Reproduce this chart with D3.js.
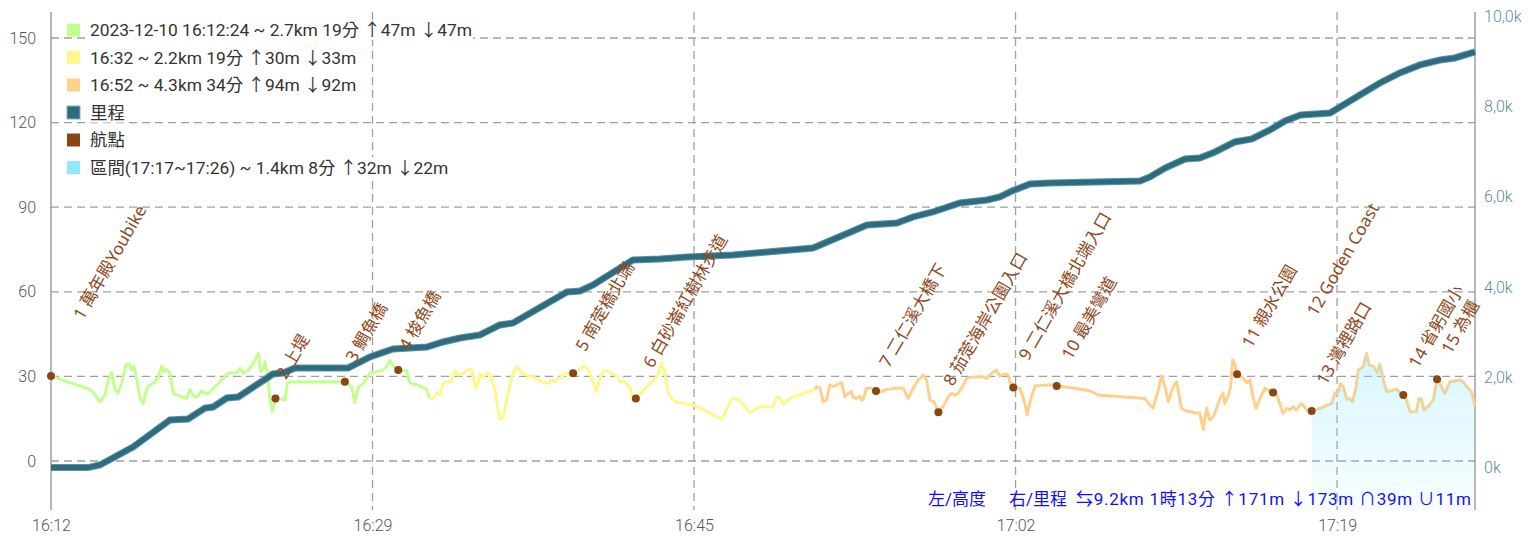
<!DOCTYPE html>
<html><head><meta charset="utf-8">
<script src="https://cdn.jsdelivr.net/npm/d3@7"></script>
<style>
html,body{margin:0;padding:0;background:#fff;}
svg{display:block;}
</style></head><body>
<svg id="c" width="1534" height="536"></svg>
<script>
// ---------------- DATA ----------------
const trackStart = "2023-12-10 16:12:24";
const trackEndSec = 4429;                       // seconds after start (17:26:13)
const segmentStartSec = [0, 1177, 2376];        // 16:12:24, 16:32, 16:52
const segmentNames = [
  "2023-12-10 16:12:24 ~ 2.7km 19分 ↑47m ↓47m",
  "16:32 ~ 2.2km 19分 ↑30m ↓33m",
  "16:52 ~ 4.3km 34分 ↑94m ↓92m"
];
const distanceName = "里程";
const waypointName = "航點";
const rangeName = "區間(17:17~17:26) ~ 1.4km 8分 ↑32m ↓22m";
const rangeSec = [3921, 4429];
const summaryLeft = "左/高度";
const summaryRight = "右/里程";
const summaryText = "⇆9.2km 1時13分 ↑171m ↓173m ∩39m ∪11m";

// elevation (m) vs elapsed seconds
const elevSec = [0,121,137,152,168,178,189,199,209,220,233,244,251,258,267,277,287,298,308,323,334,344,351,360,370,380,401,422,432,443,453,469,479,489,505,526,551,578,588,598,614,629,645,652,660,666,673,681,688,698,728,735,743,914,935,945,956,971,992,1013,1028,1039,1054,1070,1080,1106,1116,1148,1168,1177,
1189,1200,1210,1220,1231,1246,1256,1267,1282,1298,1308,1319,1324,1334,1344,1355,1365,1381,1388,1396,1407,1417,1433,1448,1464,1479,1500,1526,1547,1557,1567,1578,1588,1599,1624,1640,1656,1666,1676,1687,1697,1705,1716,1728,1744,1764,1770,1785,1801,1806,1819,1889,1899,1910,1920,1935,1951,1998,2029,2086,2101,2117,2133,2153,2174,2189,2205,2246,2257,2267,2277,2298,2324,2329,2371,2376,
2381,2392,2402,2412,2423,2433,2444,2459,2469,2480,2490,2495,2506,2516,2521,2526,2537,2552,2566,2583,2599,2630,2651,2666,2682,2697,2713,2723,2734,2746,2760,2775,2791,2801,2811,2822,2832,2848,2863,2895,2910,2926,2941,2951,2967,2977,2982,2993,3014,3029,3036,3045,3060,3107,3128,3169,3231,3257,3402,3418,3428,3444,3454,3465,3475,3485,3496,3501,3516,3527,3558,3573,3584,3594,3604,3615,3625,3636,3646,3651,3661,3669,3675,3682,3689,3703,3719,3729,3739,3748,3760,3776,3786,3801,3812,3822,3832,3843,3853,3864,3874,3887,3895,3905,3921,3947,3983,3993,4004,4011,4019,4030,4040,4048,4059,4066,4081,4092,4100,4112,4125,4133,4144,4154,4170,4185,4195,4206,4216,4227,4247,4255,4263,4270,4283,4299,4311,4320,4335,4351,4382,4392,4403,4418,4429];
const elevVal = [30.1,25.4,23.4,21.0,23.4,28.7,31.3,25.2,24.2,27.5,34.0,34.4,32.3,33.7,28.7,22.2,20.4,25.8,27.0,27.8,29.9,33.7,31.7,32.3,31.1,24.0,23.0,22.2,25.4,23.0,22.6,24.9,24.0,23.8,25.8,28.1,31.1,31.3,32.9,31.1,32.3,34.6,38.2,31.7,32.9,35.2,31.1,21.6,17.5,22.2,21.6,27.5,28.1,28.1,26.2,20.7,26.2,27.4,31.1,31.7,32.0,32.9,35.6,32.9,32.3,32.0,27.8,26.6,25.4,22.2,
22.2,24.0,23.4,27.5,28.1,28.1,32.0,30.5,31.1,32.5,32.5,26.4,25.8,30.9,29.7,31.1,30.9,25.2,19.3,14.8,15.7,21.6,29.9,33.5,31.1,30.5,29.9,28.1,27.5,28.7,28.1,29.3,29.7,31.1,31.1,32.0,33.7,32.9,31.1,27.5,24.6,28.7,31.7,32.0,31.1,29.9,28.1,28.1,25.8,22.8,22.2,30.5,34.9,31.1,24.0,21.6,20.7,19.9,18.1,14.8,18.1,21.9,22.2,19.9,17.1,18.1,19.3,19.3,22.8,22.6,20.2,22.2,23.4,23.4,25.2,25.4,
26.4,25.8,21.0,21.6,27.0,26.4,27.0,27.8,22.8,24.0,24.6,22.5,22.1,23.0,21.6,21.9,25.8,25.8,24.8,24.6,25.4,25.8,25.8,22.2,25.8,28.7,30.5,28.7,21.6,21.0,17.3,19.3,22.8,24.0,23.4,24.0,25.8,29.3,29.7,29.9,29.3,31.1,32.3,30.1,30.9,30.5,28.1,26.1,25.8,20.4,16.3,21.0,26.6,27.0,26.6,26.1,24.9,23.4,22.2,19.9,18.7,25.2,30.1,26.4,21.0,24.6,27.5,28.1,18.7,17.9,17.1,16.9,11.2,18.7,14.5,15.7,18.7,22.2,24.0,20.4,22.8,26.4,35.8,34.6,30.8,29.9,27.8,28.7,22.2,18.7,22.2,25.8,25.2,24.3,23.4,20.4,16.9,18.7,18.1,19.3,18.1,20.4,19.9,18.1,17.7,18.7,20.4,24.0,24.6,27.5,26.4,21.9,22.2,21.0,26.4,32.3,33.5,38.2,34.0,33.7,31.3,34.4,28.7,24.6,25.0,25.5,24.1,23.4,21.6,17.5,17.5,22.2,21.9,18.1,19.3,21.6,29.0,27.5,24.0,28.1,28.7,28.1,26.4,24.6,19.5];

// cumulative distance (m) vs elapsed seconds
const distSec = [0,115,152,255,370,426,479,504,547,582,672,690,722,759,924,992,1064,1169,1219,1272,1334,1396,1437,1605,1645,1686,1810,1894,1978,2121,2227,2370,2538,2631,2681,2743,2827,2911,2951,2989,3045,3107,3387,3418,3465,3527,3573,3620,3682,3735,3791,3838,3887,3978,4009,4071,4133,4195,4258,4320,4366,4429];
const distVal = [0,0,58,456,1054,1076,1320,1342,1542,1564,1985,2073,2095,2206,2206,2450,2627,2671,2782,2871,2937,3159,3203,3890,3912,4045,4598,4620,4665,4709,4776,4864,5374,5418,5551,5662,5861,5927,5994,6127,6282,6304,6348,6437,6636,6835,6858,6991,7212,7278,7478,7677,7810,7854,7987,8253,8519,8740,8918,9028,9073,9206];

// waypoints
const wpNames = ["1 萬年殿Youbike","2 上堤","3 鯛魚橋","4 梭魚橋","5 南萣橋北端","6 白砂崙紅樹林步道","7 二仁溪大橋下","8 茄萣海岸公園入口","9 二仁溪大橋北端入口","10 最美彎道","11 親水公園","12 Goden Coast","13 灣裡路口","14 省躬國小","15 為櫃"];
const wpSec = [0,698,914,1080,1624,1819,2566,2760,2993,3128,3689,3801,3921,4206,4311];
const wpElev = [30.1,22.2,28.1,32.3,31.1,22.2,24.8,17.3,26.1,26.6,30.8,24.3,17.7,23.4,29.0];

// axes
const leftTicks = [0,30,60,90,120,150];
const rightTicks = [0,2000,4000,6000,8000,10000];
const timeTickSec = [0,1000,2000,3000,4000];
const timeTickLabels = ["16:12","16:29","16:45","17:02","17:19"];

// ---------------- LAYOUT / STYLE ----------------
const plot = {left:51, right:1475, top:12, bottom:510};
const segColors = ["#c2ff8c","#fff68c","#ffd08c"];
const distColor = "#2c6c7e";
const wpColor = "#8b4513";
const rangeColor = "#8ee8ff";
const labelDist = [64,21,21,21,24,34,26,29,30,29,29,87,29,30,28]; // label offset along text direction
const fontUI = "Roboto, 'Noto Sans CJK TC', sans-serif";

const svg = d3.select("#c");
const [Y,M,D] = trackStart.split(" ")[0].split("-").map(Number);
const [h,mi,se] = trackStart.split(" ")[1].split(":").map(Number);
const t0 = new Date(Y, M-1, D, h, mi, se);
const toDate = s => new Date(t0.getTime() + s*1000);

const x = d3.scaleTime().domain([toDate(0), toDate(trackEndSec)]).range([plot.left, plot.right]);
const yL = d3.scaleLinear().domain([0,150]).range([461,38]);
const yR = d3.scaleLinear().domain([0,10000]).range([467.6,16.1]);

const elev = elevSec.map((s,i)=>({s, v:elevVal[i]}));
const dist = distSec.map((s,i)=>({s, v:distVal[i]}));

// defs gradient
const defs = svg.append("defs");
const grad = defs.append("linearGradient").attr("id","rg").attr("x1",0).attr("y1",0).attr("x2",0).attr("y2",1);
grad.append("stop").attr("offset","0%").attr("stop-color",rangeColor).attr("stop-opacity",0.36);
grad.append("stop").attr("offset","100%").attr("stop-color",rangeColor).attr("stop-opacity",0.06);

// grid
const grid = svg.append("g").attr("stroke","#a0a0a0").attr("stroke-width",1.3).attr("stroke-dasharray","8,5");
grid.selectAll("line.h").data(leftTicks).join("line")
  .attr("x1",plot.left).attr("x2",plot.right).attr("y1",d=>yL(d)).attr("y2",d=>yL(d));
grid.selectAll("line.v").data(timeTickSec.filter(d=>d>0)).join("line")
  .attr("x1",d=>x(toDate(d))).attr("x2",d=>x(toDate(d))).attr("y1",plot.top).attr("y2",plot.bottom);

// axes lines
svg.append("line").attr("x1",plot.left).attr("x2",plot.left).attr("y1",plot.top).attr("y2",plot.bottom).attr("stroke","#888").attr("stroke-width",1.2);
svg.append("line").attr("x1",plot.right).attr("x2",plot.right).attr("y1",plot.top).attr("y2",plot.bottom).attr("stroke","#888").attr("stroke-width",1.2);

// axis labels via d3 axes
const gl = svg.append("g").attr("transform",`translate(${plot.left},0)`)
  .call(d3.axisLeft(yL).tickValues(leftTicks).tickSize(0).tickPadding(15));
const gr = svg.append("g").attr("transform",`translate(${plot.right},0)`)
  .call(d3.axisRight(yR).tickValues(rightTicks).tickSize(0).tickPadding(9)
    .tickFormat(v=> v===0 ? "0k" : (v/1000).toFixed(1).replace(".",",")+"k"));
const gb = svg.append("g").attr("transform",`translate(0,${plot.bottom})`)
  .call(d3.axisBottom(x).tickValues(timeTickSec.map(toDate)).tickSize(0).tickPadding(10)
    .tickFormat((d,i)=>timeTickLabels[i]));
[gl,gr,gb].forEach(g=>{ g.select(".domain").remove(); g.selectAll("text").attr("font-family",fontUI).attr("font-size",16).attr("font-weight",300); });
gl.selectAll("text").attr("fill","#555");
gb.selectAll("text").attr("fill","#555");
gr.selectAll("text").attr("fill","#5a8e9e");

// elevation segments
const lineE = d3.line().x(d=>x(toDate(d.s))).y(d=>yL(d.v));
segmentStartSec.forEach((s0,i)=>{
  const s1 = i<segmentStartSec.length-1 ? segmentStartSec[i+1] : trackEndSec;
  const pts = elev.filter(d=>d.s>=s0 && d.s<=s1);
  svg.append("path").attr("d",lineE(pts)).attr("fill","none").attr("stroke",segColors[i])
    .attr("stroke-width",3).attr("stroke-linejoin","round");
});

// distance line
const lineD = d3.line().x(d=>x(toDate(d.s))).y(d=>yR(d.v));
svg.append("path").attr("d",lineD(dist)).attr("fill","none").attr("stroke","#5d94a4").attr("stroke-width",7);
svg.append("path").attr("d",lineD(dist)).attr("fill","none").attr("stroke",distColor).attr("stroke-width",5);

// range area
const areaPts = elev.filter(d=>d.s>=rangeSec[0] && d.s<=rangeSec[1]);
const area = d3.area().x(d=>x(toDate(d.s))).y0(plot.bottom).y1(d=>yL(d.v));
svg.append("path").attr("d",area(areaPts)).attr("fill","url(#rg)");

// waypoint labels
const wps = wpNames.map((n,i)=>({n, s:wpSec[i], v:wpElev[i], d:labelDist[i]}));
const ang = -60*Math.PI/180;
svg.append("g").selectAll("text").data(wps).join("text")
  .attr("transform",d=>`translate(${x(toDate(d.s))+d.d*Math.cos(ang)},${yL(d.v)+d.d*Math.sin(ang)}) rotate(-60)`)
  .attr("font-family","'Noto Sans', 'Noto Sans CJK TC', sans-serif").attr("font-size",17)
  .attr("fill","#8f4a1c").text(d=>d.n);

// waypoint markers
svg.append("g").selectAll("circle").data(wps).join("circle")
  .attr("cx",d=>x(toDate(d.s))).attr("cy",d=>yL(d.v)).attr("r",4).attr("fill",wpColor);

// legend
const legendItems = [
  {c:segColors[0], t:segmentNames[0]},
  {c:segColors[1], t:segmentNames[1]},
  {c:segColors[2], t:segmentNames[2]},
  {c:distColor, t:distanceName, b:"#7fb2c0"},
  {c:wpColor, t:waypointName},
  {c:rangeColor, t:rangeName}
];
const lg = svg.append("g");
legendItems.forEach((it,i)=>{
  const cy = 30 + i*27.5;
  const g = lg.append("g");
  g.append("rect").attr("x",67).attr("y",cy-6.5).attr("width",13).attr("height",13).attr("fill",it.c)
    .attr("stroke",it.b||"none").attr("stroke-width",1);
  const bg = g.append("rect").attr("fill","#fff");
  const tx = g.append("text").attr("x",90).attr("y",cy).attr("dominant-baseline","central")
    .attr("font-family",fontUI).attr("font-size",17.4).attr("fill","#333").text(it.t);
  const bb = tx.node().getBBox();
  bg.attr("x",bb.x-1).attr("y",bb.y).attr("width",bb.width+2).attr("height",bb.height);
});

// summary text
const st = svg.append("g").attr("font-family",fontUI).attr("font-size",17).attr("fill","#1010ff");
st.append("text").attr("x",928).attr("y",505).text(summaryLeft);
st.append("text").attr("x",1009).attr("y",505).text(summaryRight);
st.append("text").attr("x",1076).attr("y",505).attr("textLength",395).attr("lengthAdjust","spacing").text(summaryText);
</script></body></html>
